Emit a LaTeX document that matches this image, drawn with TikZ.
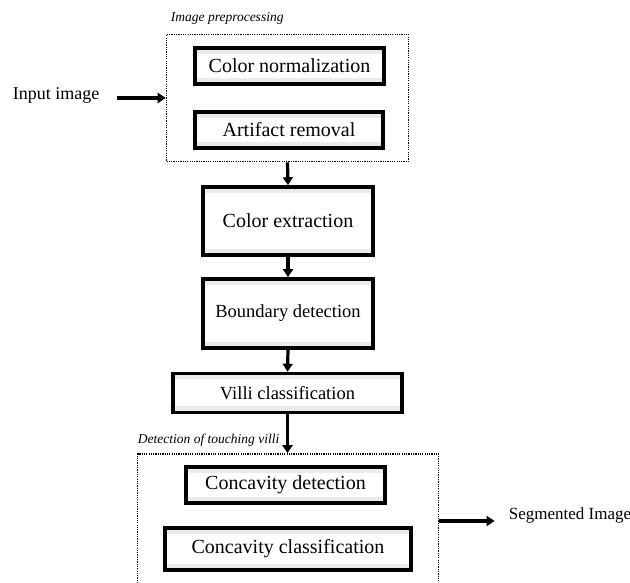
\documentclass[tikz,border=0pt]{standalone}
\usepackage{fontspec}
\setmainfont{Liberation Serif}
\usetikzlibrary{arrows.meta}

\begin{document}
\begin{tikzpicture}[x=1pt, y=1pt,
    step box/.style={draw, line width=3.6pt, fill=white, inner sep=0pt,
      font=\fontsize{20}{23}\selectfont,
      path picture={
        \fill [black!8] (path picture bounding box.north west) rectangle
        ([yshift=-6pt]path picture bounding box.north east);
        \fill [black!8] (path picture bounding box.south west) rectangle
        ([yshift=6pt]path picture bounding box.south east);}},
    small text/.style={font=\fontsize{18.5}{21}\selectfont},
    group box/.style={draw, line width=1.6pt, dash pattern=on 1.2pt off 1.1pt,
      inner sep=0pt},
    group label/.style={font=\fontsize{13.5}{15}\selectfont\itshape,
      inner sep=0pt, anchor=base west},
    flow/.style={line width=3.2pt,
      -{Triangle[length=8pt, width=10pt]}}]

    \useasboundingbox (0, 0) rectangle (630, 583);

    % grupy przerywane
    \node [group box, minimum width=242pt, minimum height=127pt] (pre)
    at (287.5, 485) {};

    \node [group box, minimum width=301pt, minimum height=160pt] (det)
    at (288, 49) {};

    \node [group label] at ([xshift=5pt, yshift=12pt]pre.north west)
    {Image preprocessing};

    \node [group label] at ([xshift=1pt, yshift=10pt]det.north west)
    {Detection of touching villi};

    % kroki
    \node [step box, minimum width=189pt, minimum height=36pt] (norm)
    at (289.5, 517) {Color normalization};

    \node [step box, minimum width=188pt, minimum height=36pt] (artif)
    at (289, 453) {Artifact removal};

    \node [step box, minimum width=170pt, minimum height=68pt] (extr)
    at (288, 362) {Color extraction};

    \node [step box, small text, minimum width=170pt, minimum height=69pt]
    (bound) at (288, 269.5) {Boundary detection};

    \node [step box, small text, minimum width=229pt, minimum height=39pt]
    (villi) at (287.5, 190) {Villi classification};

    \node [step box, minimum width=199pt, minimum height=36pt] (cdet)
    at (285.5, 98) {Concavity detection};

    \node [step box, minimum width=246pt, minimum height=42pt] (ccls)
    at (288, 34) {Concavity classification};

    % wejscie i wyjscie
    \node [font=\fontsize{18}{21}\selectfont, inner sep=2pt] (inp)
    at (56, 488) {Input image};

    \node [font=\fontsize{17}{20}\selectfont, inner sep=2pt] (seg)
    at (570, 68) {Segmented Image};

    \draw [flow] ([xshift=16pt]inp.east |- pre.west) -- (pre.west);

    \draw [flow] (pre.south) -- (extr.north);
    \draw [flow] (extr.south) -- (bound.north);
    \draw [flow] (bound.south) -- (villi.north);
    \draw [flow] (villi.south) -- (villi.south |- det.north);

    \draw [flow] ([yshift=-6pt]seg.west -| det.east) --
    ([xshift=-12pt, yshift=-6pt]seg.west);

  \end{tikzpicture}
\end{document}
